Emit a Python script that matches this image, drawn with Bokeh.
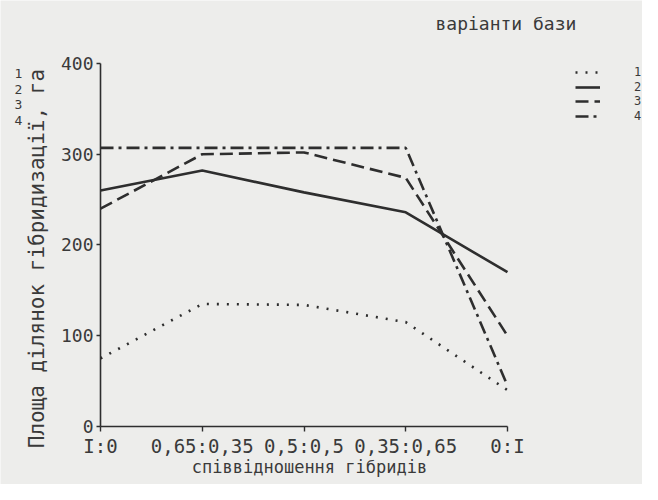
import math
from bokeh.plotting import figure
from bokeh.models import (Range1d, FixedTicker, Label, Legend, LegendItem)
from bokeh.embed import file_html
from bokeh.resources import INLINE

# ---- data ----
categories = ["I:0", "0,65:0,35", "0,5:0,5", "0,35:0,65", "0:I"]
variant_1 = [75, 135, 134, 115, 40]
variant_2 = [260, 282, 258, 236, 170]
variant_3 = [240, 300, 302, 274, 100]
variant_4 = [307, 307, 307, 307, 45]
y_ticks = [0, 100, 200, 300, 400]
legend_labels = ["1", "2", "3", "4"]

FONT = "DejaVu Sans Mono"
INK = "#2e2e2e"
TEXT = "#3a3a3a"
BG = "#ededeb"

xs = list(range(len(categories)))

# frame covers the whole canvas; axes are pinned at data 0
p = figure(width=642, height=484, output_backend="svg", toolbar_location=None,
           x_range=Range1d(-0.983, 5.327), y_range=Range1d(-63.9, 469.4),
           min_border_left=0, min_border_right=0, min_border_top=0,
           min_border_bottom=0)
p.background_fill_color = BG
p.border_fill_color = BG
p.outline_line_color = None
p.grid.visible = False

p.xaxis.fixed_location = 0
p.yaxis.fixed_location = 0

p.xaxis.bounds = (0, 4)
p.xaxis.ticker = FixedTicker(ticks=xs)
p.xaxis.major_label_overrides = {i: c for i, c in enumerate(categories)}
p.xaxis.minor_tick_line_color = None
p.xaxis.major_tick_out = 5
p.xaxis.major_tick_in = 0
p.xaxis.major_label_standoff = 3
p.xaxis.major_label_text_font_size = "19px"

p.yaxis.bounds = (0, 400)
p.yaxis.ticker = FixedTicker(ticks=y_ticks)
p.yaxis.minor_tick_line_color = None
p.yaxis.major_tick_out = 4
p.yaxis.major_tick_in = 0
p.yaxis.major_label_standoff = 3
p.yaxis.major_label_text_font_size = "18px"

for ax in (p.xaxis, p.yaxis):
    ax.axis_line_color = INK
    ax.axis_line_width = 1.6
    ax.major_tick_line_color = INK
    ax.major_tick_line_width = 1.4
    ax.major_label_text_font = FONT
    ax.major_label_text_color = TEXT

# series
renderers = [
    p.line(xs, variant_1, line_color=INK, line_width=2.6, line_dash="2 8"),
    p.line(xs, variant_2, line_color=INK, line_width=2.6),
    p.line(xs, variant_3, line_color=INK, line_width=2.6, line_dash="13 6"),
    p.line(xs, variant_4, line_color=INK, line_width=2.6, line_dash="13 5 3 5"),
]

# legend: one compact row per variant (tight row pitch as in the original)
legend_y = [405, 390.5, 376, 361.5]
for lab, r, ly in zip(legend_labels, renderers, legend_y):
    lg = Legend(items=[LegendItem(label=lab, renderers=[r])],
                location=(575, ly), orientation="vertical",
                glyph_width=25, glyph_height=10, label_standoff=34,
                label_height=10, spacing=0, padding=0, margin=0,
                border_line_alpha=0, background_fill_alpha=0,
                label_text_font=FONT, label_text_font_size="12px",
                label_text_color=TEXT)
    p.add_layout(lg)

# legend title
p.add_layout(Label(x=3.292, y=444, text="варіанти бази", text_font=FONT,
                   text_font_size="18px", text_color=TEXT,
                   text_align="left", text_baseline="middle"))

# axis titles
p.add_layout(Label(x=-0.629, y=185, text="Площа ділянок гібридизації, га",
                   angle=math.pi / 2, text_font=FONT, text_font_size="21px",
                   text_color=TEXT, text_align="center", text_baseline="middle"))
p.add_layout(Label(x=2.054, y=-45, text="співвідношення гібридів",
                   text_font=FONT, text_font_size="17px", text_color=TEXT,
                   text_align="center", text_baseline="middle"))

# small stacked digits at top left
p.add_layout(Label(x=-0.806, y=363, text="1\n2\n3\n4", text_font=FONT,
                   text_font_size="13px", text_color=TEXT, text_line_height=1.05,
                   text_align="center", text_baseline="middle"))

open("out.html", "w").write(file_html(p, INLINE))
